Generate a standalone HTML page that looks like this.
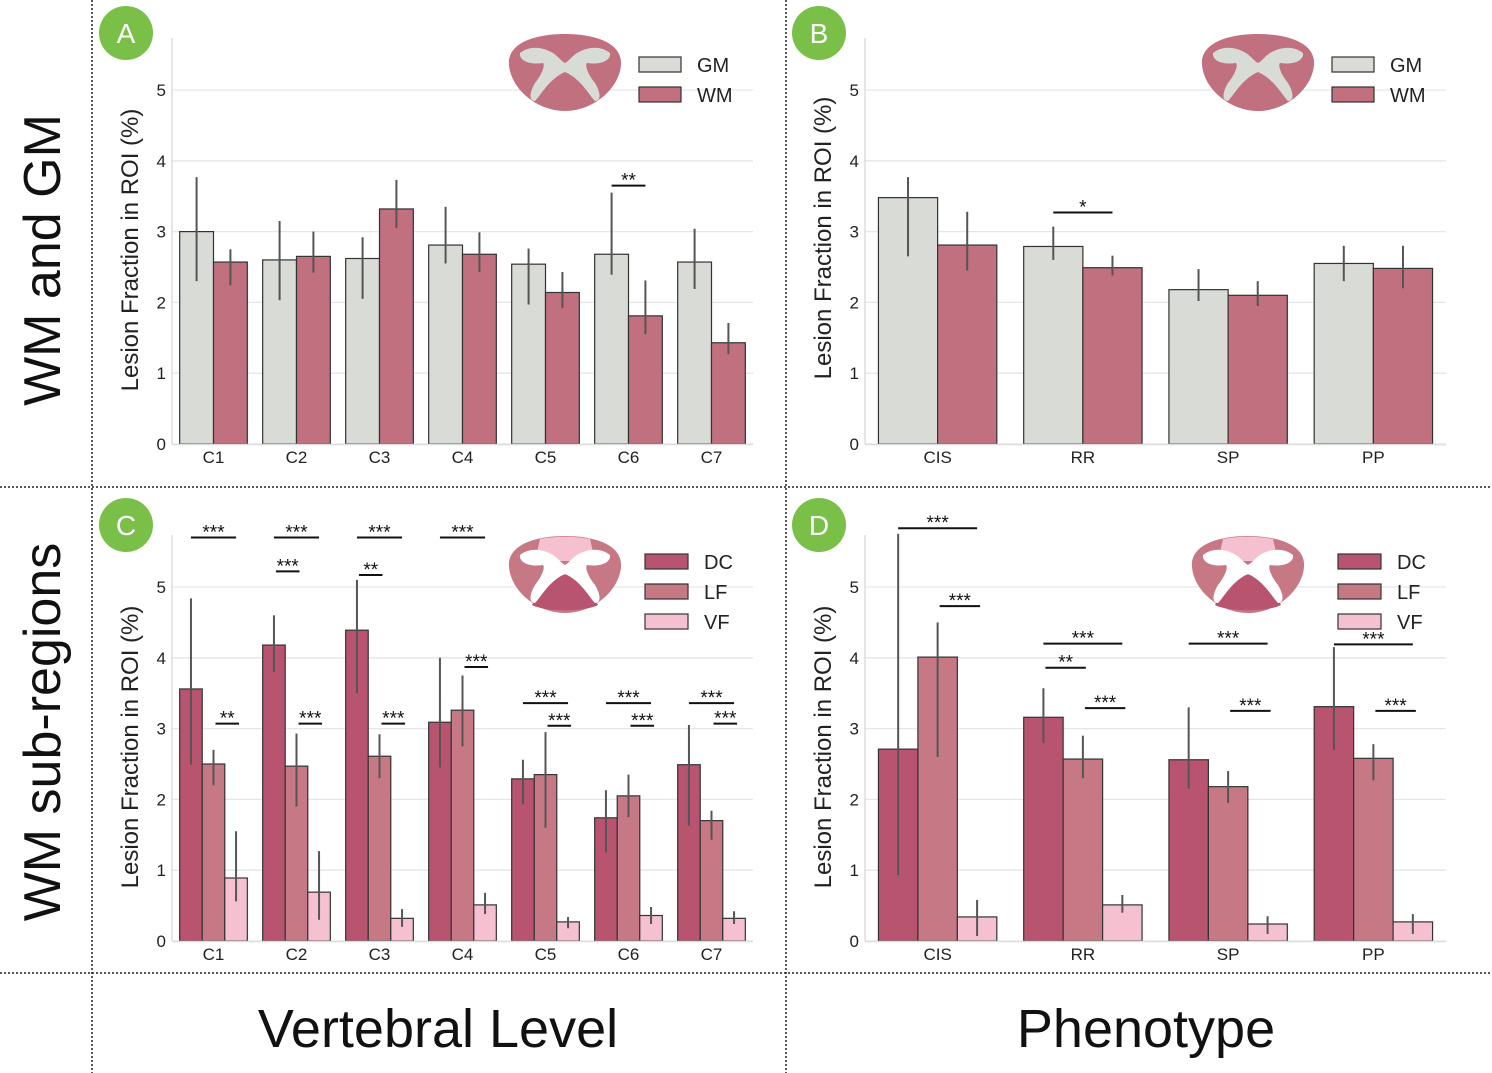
<!DOCTYPE html>
<html><head><meta charset="utf-8">
<style>
html,body{margin:0;padding:0;background:#fff;}
svg{display:block;font-family:"Liberation Sans",sans-serif;}
</style></head>
<body>
<svg id="fig" width="1492" height="1073" viewBox="0 0 1492 1073" xmlns="http://www.w3.org/2000/svg">
<g stroke="#222" stroke-width="1.5" stroke-dasharray="2,2">
<line x1="92" y1="0" x2="92" y2="1073"/>
<line x1="786" y1="0" x2="786" y2="1073"/>
<line x1="0" y1="487" x2="1492" y2="487"/>
<line x1="0" y1="973" x2="1492" y2="973"/>
</g>
<text transform="translate(60,260) rotate(-90)" text-anchor="middle" font-size="52" fill="#111">WM and GM</text>
<text transform="translate(60,732) rotate(-90)" text-anchor="middle" font-size="52" fill="#111">WM sub-regions</text>
<text x="438" y="1047" text-anchor="middle" font-size="54" fill="#111">Vertebral Level</text>
<text x="1146" y="1047" text-anchor="middle" font-size="54" fill="#111">Phenotype</text>
<g id="plots"></g>
</svg>
<script>
// ---- data ----
const levels = ["C1","C2","C3","C4","C5","C6","C7"];
const phenotypes = ["CIS","RR","SP","PP"];
const yTicks = [0,1,2,3,4,5];
// Panel A
const aGM = [3.0,2.6,2.62,2.81,2.54,2.68,2.57];
const aGMlo = [2.3,2.03,2.05,2.55,1.97,2.39,2.19];
const aGMhi = [3.77,3.15,2.92,3.35,2.76,3.55,3.04];
const aWM = [2.57,2.65,3.32,2.68,2.14,1.81,1.43];
const aWMlo = [2.24,2.42,3.05,2.43,1.92,1.55,1.27];
const aWMhi = [2.75,3.0,3.73,2.99,2.43,2.31,1.71];
// Panel B
const bGM = [3.48,2.79,2.18,2.55];
const bGMlo = [2.65,2.6,2.02,2.3];
const bGMhi = [3.77,3.07,2.47,2.8];
const bWM = [2.81,2.49,2.1,2.48];
const bWMlo = [2.45,2.38,1.95,2.2];
const bWMhi = [3.28,2.66,2.3,2.8];
// Panel C
const cDC = [3.56,4.18,4.39,3.09,2.29,1.74,2.49];
const cDClo = [2.49,3.8,3.5,2.45,1.93,1.25,1.63];
const cDChi = [4.84,4.6,5.1,4.0,2.56,2.13,3.05];
const cLF = [2.5,2.47,2.61,3.26,2.35,2.05,1.7];
const cLFlo = [2.2,1.9,2.3,2.75,1.6,1.75,1.43];
const cLFhi = [2.7,2.93,2.92,3.75,2.95,2.35,1.84];
const cVF = [0.89,0.69,0.32,0.51,0.27,0.36,0.32];
const cVFlo = [0.56,0.3,0.2,0.38,0.18,0.24,0.24];
const cVFhi = [1.55,1.27,0.45,0.68,0.34,0.48,0.42];
// Panel D
const dDC = [2.71,3.16,2.56,3.31];
const dDClo = [0.93,2.8,2.15,2.7];
const dDChi = [5.75,3.57,3.3,4.15];
const dLF = [4.01,2.57,2.18,2.58];
const dLFlo = [2.6,2.3,1.95,2.27];
const dLFhi = [4.5,2.9,2.4,2.78];
const dVF = [0.34,0.51,0.24,0.27];
const dVFlo = [0.07,0.4,0.1,0.1];
const dVFhi = [0.58,0.65,0.35,0.38];
// significance: [category, fromBar, toBar, yValue, label]
const aSig = [[5,0,1,3.65,"**"]];
const bSig = [[1,0,1,3.27,"*"]];
const cSig = [[0,0,2,5.7,"***"],[0,1,2,3.07,"**"],[1,0,2,5.7,"***"],[1,0,1,5.22,"***"],[1,1,2,3.07,"***"],
 [2,0,2,5.7,"***"],[2,0,1,5.17,"**"],[2,1,2,3.07,"***"],[3,0,2,5.7,"***"],[3,1,2,3.87,"***"],
 [4,0,2,3.36,"***"],[4,1,2,3.04,"***"],[5,0,2,3.36,"***"],[5,1,2,3.04,"***"],[6,0,2,3.36,"***"],[6,1,2,3.07,"***"]];
const dSig = [[0,0,2,5.83,"***"],[0,1,2,4.73,"***"],[1,0,2,4.2,"***"],[1,0,1,3.86,"**"],[1,1,2,3.29,"***"],
 [2,0,2,4.2,"***"],[2,1,2,3.25,"***"],[3,0,2,4.19,"***"],[3,1,2,3.25,"***"]];

const NS="http://www.w3.org/2000/svg";
const root=document.getElementById('plots');
function mk(tag,attrs,parent){const e=document.createElementNS(NS,tag);for(const k in attrs)e.setAttribute(k,attrs[k]);(parent||root).appendChild(e);return e;}

const panels=[
 {id:"a",letter:"A",left:172,right:753,y0:444,top:38,cats:levels,
  series:[{name:"GM",v:aGM,lo:aGMlo,hi:aGMhi,c:"#d9dbd7"},{name:"WM",v:aWM,lo:aWMlo,hi:aWMhi,c:"#c0707e"}],sig:aSig,
  icon:"gm",iconX:565,iconY:73,legX:639,legY:57,textX:697,labX:130,labY:250,circX:126,circY:33},
 {id:"b",letter:"B",left:865,right:1446,y0:444,top:38,cats:phenotypes,
  series:[{name:"GM",v:bGM,lo:bGMlo,hi:bGMhi,c:"#d9dbd7"},{name:"WM",v:bWM,lo:bWMlo,hi:bWMhi,c:"#c0707e"}],sig:bSig,
  icon:"gm",iconX:1258,iconY:73,legX:1332,legY:57,textX:1390,labX:823,labY:238,circX:819,circY:33},
 {id:"c",letter:"C",left:172,right:753,y0:941,top:535,cats:levels,
  series:[{name:"DC",v:cDC,lo:cDClo,hi:cDChi,c:"#b8546f"},{name:"LF",v:cLF,lo:cLFlo,hi:cLFhi,c:"#c67885"},{name:"VF",v:cVF,lo:cVFlo,hi:cVFhi,c:"#f5c1d0"}],sig:cSig,
  icon:"wm",iconX:565,iconY:575,legX:645,legY:554,textX:704,labX:130,labY:747,circX:126,circY:525},
 {id:"d",letter:"D",left:865,right:1446,y0:941,top:535,cats:phenotypes,
  series:[{name:"DC",v:dDC,lo:dDClo,hi:dDChi,c:"#b8546f"},{name:"LF",v:dLF,lo:dLFlo,hi:dLFhi,c:"#c67885"},{name:"VF",v:dVF,lo:dVFlo,hi:dVFhi,c:"#f5c1d0"}],sig:dSig,
  icon:"wm",iconX:1248,iconY:575,legX:1338,legY:554,textX:1397,labX:823,labY:747,circX:819,circY:525}
];
const unit=70.8;

panels.forEach(p=>{
 const g=mk('g',{});
 
 
 const Y=v=>p.y0-v*unit;
 const step=(p.right-p.left)/p.cats.length;
 const X=i=>p.left+(i+0.5)*step;
 const ns=p.series.length, bw=step*0.815/ns;
 const bx=(i,s)=>X(i)-bw*ns/2+s*bw;
 yTicks.forEach(t=>{
  const l=mk('line',{x1:p.left,x2:p.right,y1:Y(t),y2:Y(t),stroke:"#e6e6e6","stroke-width":1.3},g);
  
  
  const tx=mk('text',{x:p.left-6,y:Y(t)+6,"text-anchor":"end","font-size":17,fill:"#222"},g);
  tx.textContent=t;
  
  
 });
 const ax=mk('line',{x1:p.left,x2:p.left,y1:p.top,y2:p.y0,stroke:"#ddd","stroke-width":1.5},g);
 
 
 const yl=mk('text',{transform:`translate(${p.labX+8},${p.labY}) rotate(-90)`,"text-anchor":"middle","font-size":24,fill:"#222"},g);
 yl.textContent="Lesion Fraction in ROI (%)";
 
 
 p.series.forEach((s,si)=>{
  s.v.forEach((v,i)=>{
   const r=mk('rect',{x:bx(i,si),y:Y(v),width:bw,height:v*unit,fill:s.c,stroke:"#333","stroke-width":1.2},g);
   
   
  });
 });
 p.series.forEach((s,si)=>{
  s.v.forEach((v,i)=>{
   const cx=bx(i,si)+bw/2;
   const e=mk('line',{x1:cx,x2:cx,y1:Y(s.lo[i]),y2:Y(s.hi[i]),stroke:"#555","stroke-width":2},g);
   
   
  });
 });
 const bl=mk('line',{x1:p.left,x2:p.right,y1:p.y0+0.5,y2:p.y0+0.5,stroke:"#ddd","stroke-width":1.5},g);
 
 
 p.cats.forEach((c,i)=>{
  const t=mk('text',{x:X(i),y:p.y0+19,"text-anchor":"middle","font-size":17,fill:"#222"},g);
  t.textContent=c;
  
  
 });
 p.sig.forEach(sg=>{
  const full=(sg[1]===0&&sg[2]===ns-1);
  const x1=bx(sg[0],sg[1])+bw/2+(full?0:2), x2=bx(sg[0],sg[2])+bw/2+(full?0:3);
  const y=Y(sg[3]);
  const l=mk('line',{x1:x1,x2:x2,y1:y,y2:y,stroke:"#111","stroke-width":2},g);
  
  
  const t=mk('text',{x:(x1+x2)/2,y:y+1,"text-anchor":"middle","font-size":19,fill:"#111"},g);
  t.textContent=sg[4];
  
  
 });
 const ic=mk('g',{transform:`translate(${p.iconX},${p.iconY})`},g);
 
 
 const outline="M-56,-8 C-58,-30 -30,-39 0,-39 C30,-39 58,-30 56,-8 C54,16 28,38 0,38 C-28,38 -54,16 -56,-8 Z";
 const butterfly="M-45,-20 C-35,-28 -22,-26 -12,-20 C-6,-16 -4,-12 0,-10 C4,-12 6,-16 12,-20 C22,-26 35,-28 45,-20 C46,-12 35,-8 22,-10 C20,-8 22,0 30,10 C36,20 36,28 30,28 C24,22 16,6 0,-1 C-16,6 -24,22 -30,28 C-36,28 -36,20 -30,10 C-22,0 -20,-8 -22,-10 C-35,-8 -46,-12 -45,-20 Z";
 if(p.icon==="gm"){
  mk('path',{d:outline,fill:"#c0707e"},ic);
  mk('path',{d:butterfly,fill:"#d9dbd7"},ic);
 } else {
  mk('path',{d:outline,fill:"#c67885"},ic);
  mk('path',{d:"M-25,-36 C-10,-39 10,-39 25,-36 L30,-14 L-30,-14 Z",fill:"#f5c1d0"},ic);
  mk('path',{d:"M-18,0 L18,0 L33,30 C20,37 -20,37 -33,30 Z",fill:"#b8546f"},ic);
  mk('path',{d:butterfly,fill:"#fff"},ic);
 }
 p.series.forEach((s,si)=>{
  const y=p.legY+si*30;
  const r=mk('rect',{x:p.legX,y:y,width:p.icon==="gm"?42:43,height:15,fill:s.c,stroke:"#333","stroke-width":1.2},g);
  
  
  const t=mk('text',{x:p.textX,y:y+15,"font-size":20,fill:"#222"},g);
  t.textContent=s.name;
  
  
 });
 const cg=mk('g',{},g);
 
 
 mk('ellipse',{cx:p.circX,cy:p.circY,rx:27,ry:27,fill:"#79bf48"},cg);
 const lt=mk('text',{x:p.circX,y:p.circY+10,"text-anchor":"middle","font-size":28,fill:"#fff"},cg);
 lt.textContent=p.letter;
});
</script>
</body></html>
